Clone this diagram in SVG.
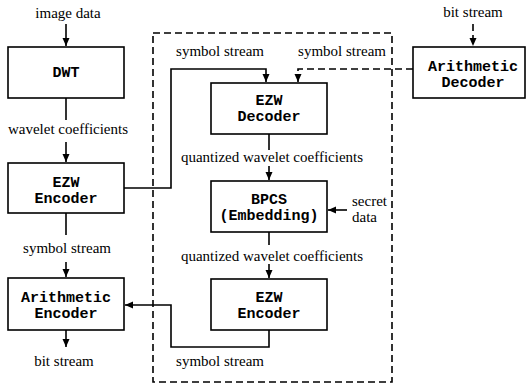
<svg xmlns="http://www.w3.org/2000/svg" width="526" height="387" viewBox="0 0 526 387">
<style>
.box{fill:#fff;stroke:#000;stroke-width:1.6}
.ln{fill:none;stroke:#000;stroke-width:1.6}
.ds{fill:none;stroke:#000;stroke-width:1.6;stroke-dasharray:7,4}
</style>
<defs>
<marker id="ah" markerUnits="userSpaceOnUse" markerWidth="10" markerHeight="8" refX="8" refY="3.5" orient="auto">
<path d="M0,0 L8,3.5 L0,7 Z" fill="#000"/>
</marker>
</defs>
<g id="container">
<rect x="153" y="33" width="239" height="349" class="ds"/>
</g>
<g id="connectors">
<path class="ln" d="M66,24 V46" marker-end="url(#ah)"/>
<path class="ln" d="M66,98 V120"/>
<path class="ln" d="M66,142 V162" marker-end="url(#ah)"/>
<path class="ln" d="M66,213 V235"/>
<path class="ln" d="M66,262 V277" marker-end="url(#ah)"/>
<path class="ln" d="M66,330 V347" marker-end="url(#ah)"/>
<path class="ln" d="M124,188 H171 V69 H266 V82" marker-end="url(#ah)"/>
<path class="ds" d="M413,69 H298 V82" marker-end="url(#ah)"/>
<path class="ds" d="M473,24 V46" marker-end="url(#ah)"/>
<path class="ln" d="M269,134 V150"/>
<path class="ln" d="M269,166 V180" marker-end="url(#ah)"/>
<path class="ln" d="M269,232 V245"/>
<path class="ln" d="M269,264 V278" marker-end="url(#ah)"/>
<path class="ln" d="M269,330 V347 H171 V305 H125" marker-end="url(#ah)"/>
<path class="ln" d="M347,210 H328" marker-end="url(#ah)"/>
</g>
<g id="labels" font-family="Liberation Serif, DejaVu Serif, Times New Roman, serif" font-size="15" fill="#000" text-anchor="middle">
<text x="68" y="18">image data</text>
<text x="68" y="134">wavelet coefficients</text>
<text x="67" y="253">symbol stream</text>
<text x="64" y="366">bit stream</text>
<text x="220" y="56">symbol stream</text>
<text x="342" y="56">symbol stream</text>
<text x="473" y="17">bit stream</text>
<text x="272" y="162">quantized wavelet coefficients</text>
<text x="272" y="261">quantized wavelet coefficients</text>
<text x="220" y="366">symbol stream</text>
<text x="352" y="206" text-anchor="start">secret</text>
<text x="352" y="222" text-anchor="start">data</text>
</g>
<g font-family="Liberation Mono, DejaVu Sans Mono, Courier New, monospace" font-weight="bold" font-size="15" fill="#000" text-anchor="middle">
<g id="dwt">
<rect class="box" x="8" y="47" width="116" height="51"/>
<text x="66" y="77">DWT</text>
</g>
<g id="ezw-encoder-left">
<rect class="box" x="8" y="163" width="116" height="50"/>
<text x="66" y="187">EZW</text>
<text x="66" y="203">Encoder</text>
</g>
<g id="arith-encoder">
<rect class="box" x="8" y="278" width="116" height="52"/>
<text x="66" y="302">Arithmetic</text>
<text x="66" y="318">Encoder</text>
</g>
<g id="ezw-decoder">
<rect class="box" x="211" y="83" width="116" height="51"/>
<text x="269" y="105">EZW</text>
<text x="269" y="121">Decoder</text>
</g>
<g id="bpcs">
<rect class="box" x="211" y="181" width="116" height="51"/>
<text x="269" y="204">BPCS</text>
<text x="269" y="220">(Embedding)</text>
</g>
<g id="ezw-encoder-inner">
<rect class="box" x="211" y="279" width="116" height="51"/>
<text x="269" y="302">EZW</text>
<text x="269" y="318">Encoder</text>
</g>
<g id="arith-decoder">
<rect class="box" x="413" y="47" width="112" height="51"/>
<text x="473" y="71">Arithmetic</text>
<text x="473" y="87">Decoder</text>
</g>
</g>
</svg>
